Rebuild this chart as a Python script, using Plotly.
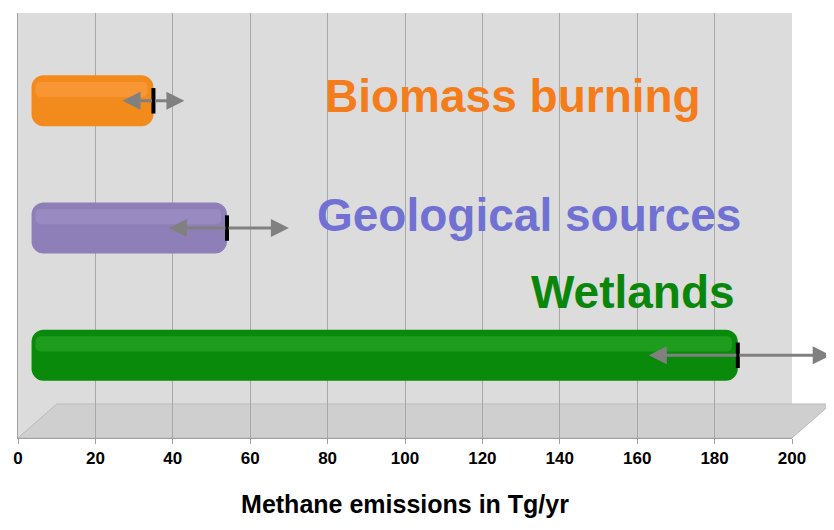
import plotly.graph_objects as go

sources = ["Wetlands", "Geological sources", "Biomass burning"]
values = [186, 54, 35]
err_low = [163, 39, 27]
err_high = [210, 70, 43]
colors = ["#0a8a0a", "#8f7fb8", "#f28a1c"]
highlights = ["#2fae2f", "#a596cc", "#fba24a"]
label_colors = ["#0a870a", "#7171d4", "#f57c1a"]
label_x = [159, 132, 128]
label_y = [0.5, 1.1, 2.04]
ticks = list(range(0, 201, 20))

ypos = [0, 1, 2]
fig = go.Figure()
fig.add_trace(go.Bar(y=ypos, x=[v - 3.5 for v in values], base=3.5, orientation="h", width=0.4,
                     marker=dict(color=colors, cornerradius=12, line=dict(width=0)),
                     hoverinfo="skip"))
fig.add_trace(go.Bar(y=ypos, x=[v - 6 for v in values], base=4.5, orientation="h", width=0.12,
                     marker=dict(color=highlights, cornerradius=5, line=dict(width=0), opacity=0.5),
                     offset=0.03, hoverinfo="skip"))

for i, (v, lo, hi) in enumerate(zip(values, err_low, err_high)):
    for end in (lo, hi):
        fig.add_annotation(x=end, y=ypos[i], ax=v, ay=ypos[i], xref="x", yref="y",
                           axref="x", ayref="y", showarrow=True, arrowhead=2,
                           arrowsize=1.2, arrowwidth=3, arrowcolor="#808080", text="")
    fig.add_shape(type="line", x0=v, x1=v, y0=ypos[i] - 0.1, y1=ypos[i] + 0.1,
                  line=dict(color="black", width=4))
    fig.add_annotation(x=label_x[i], y=label_y[i], text=f"<b>{sources[i]}</b>",
                       showarrow=False, xanchor="center",
                       font=dict(size=46, color=label_colors[i], family="Liberation Sans"))

# floor
fig.add_shape(type="path", xref="paper", yref="paper",
              path="M 0,0 L 1,0 L 1.05,0.08 L 0.05,0.08 Z",
              fillcolor="#cfcfcf", line=dict(color="#bbbbbb", width=1), layer="below")

fig.update_layout(
    width=834, height=530, showlegend=False, barmode="overlay",
    paper_bgcolor="white", plot_bgcolor="#dcdcdc",
    margin=dict(l=8, r=50, t=5, b=100),
    xaxis=dict(range=[0, 200], tickvals=ticks, showgrid=True, gridcolor="#a8a8a8",
               gridwidth=1, zeroline=False, showline=True, linecolor="#a0a0a0",
               ticks="outside", ticklen=5, tickcolor="#a0a0a0",
               tickfont=dict(size=17, color="black", family="Liberation Sans", weight="bold"),
               title=dict(text="<b>Methane emissions in Tg/yr</b>", standoff=28,
                          font=dict(size=25, color="black", family="Liberation Sans"))),
    yaxis=dict(range=[-0.65, 2.69], showticklabels=False, showgrid=False,
               zeroline=False, showline=True, linecolor="#a0a0a0"),
)
fig.write_html("out.html")
